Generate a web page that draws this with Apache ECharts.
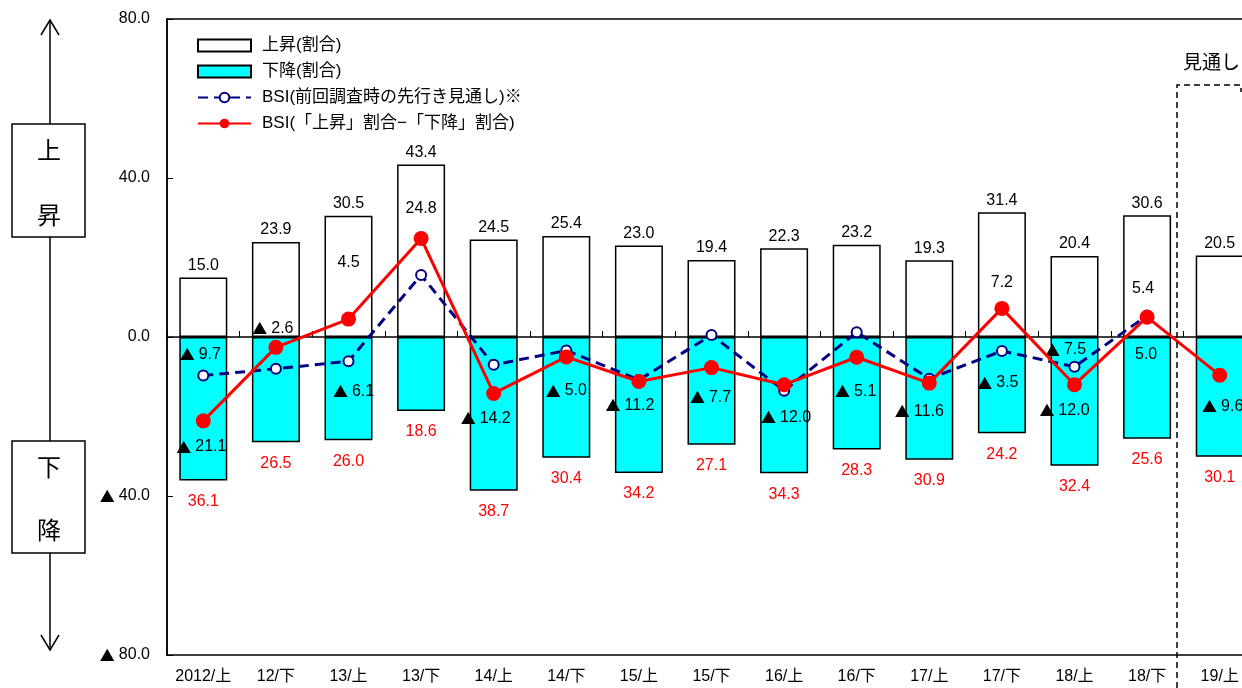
<!DOCTYPE html>
<html>
<head>
<meta charset="utf-8">
<script src="https://cdn.jsdelivr.net/npm/echarts@6/dist/echarts.min.js"></script>
<style>
  html, body { margin: 0; padding: 0; background: #fff; }
  #main { width: 1242px; height: 688px; }
</style>
</head>
<body>
<div id="main"></div>
<script>
var categories = ['2012/上', '12/下', '13/上', '13/下', '14/上', '14/下', '15/上', '15/下', '16/上', '16/下', '17/上', '17/下', '18/上', '18/下', '19/上'];
// 上昇(割合)
var riseValues = [15.0, 23.9, 30.5, 43.4, 24.5, 25.4, 23.0, 19.4, 22.3, 23.2, 19.3, 31.4, 20.4, 30.6, 20.5];
// 下降(割合)
var fallValues = [36.1, 26.5, 26.0, 18.6, 38.7, 30.4, 34.2, 27.1, 34.3, 28.3, 30.9, 24.2, 32.4, 25.6, 30.1];
// BSI(「上昇」割合－「下降」割合)
var bsiValues = [-21.1, -2.6, 4.5, 24.8, -14.2, -5.0, -11.2, -7.7, -12.0, -5.1, -11.6, 7.2, -12.0, 5.0, -9.6];
// BSI(前回調査時の先行き見通し)
var prevValues = [-9.7, -8.0, -6.1, 15.6, -7.0, -3.4, -10.8, 0.5, -13.5, 1.2, -10.5, -3.5, -7.5, 5.4, null];
var yTicks = [-80, -40, 0, 40, 80];

// ラベル位置(点からのずれ)
var bsiLabelOffset = [[-2, 26], [-3, -19], [0, -57], [0, -30], [-8, 25], [0, 34], [-9, 24], [-1, 30], [2, 33], [-1, 34], [-10, 28], [0, -26], [-10, 26], [-1, 37], [3, 31]];
var prevLabelOffset = [[-3, -21], null, [5, 30], null, null, null, null, null, null, null, null, [-4, 32], [-9, -17], [-4, -27], null];

var FONT = "'Liberation Sans', 'Noto Sans CJK JP', sans-serif";
var triRich = { t: { fontFamily: 'Noto Sans CJK JP', fontSize: 15, color: '#000', padding: [0, 4, 0, 0] } };

function fmt(v) {
    return v < 0 ? '{t|▲}' + Math.abs(v).toFixed(1) : v.toFixed(1);
}

var myChart = echarts.init(document.getElementById('main'));

var bsiData = bsiValues.map(function (v, i) {
    return {
        value: v,
        label: { show: true, position: 'inside', offset: bsiLabelOffset[i] }
    };
});
var prevData = prevValues.map(function (v, i) {
    var off = prevLabelOffset[i];
    return {
        value: v,
        label: off ? { show: true, position: 'inside', offset: off } : { show: false }
    };
});

var option = {
    animation: false,
    textStyle: { fontFamily: FONT },
    grid: {
        left: 167, width: 1089, top: 19, bottom: 33,
        outerBoundsMode: 'none',
        containLabel: false,
        show: true, borderColor: '#000', borderWidth: 1.5, backgroundColor: 'transparent'
    },
    legend: {
        orient: 'vertical',
        left: 192, top: 31,
        itemWidth: 53, itemHeight: 12, itemGap: 7,
        textStyle: { fontSize: 17, color: '#000', fontFamily: FONT, lineHeight: 19, padding: [0, 0, 0, 6] },
        data: [
            { name: '上昇(割合)', icon: 'rect' },
            { name: '下降(割合)', icon: 'rect' },
            { name: 'BSI(前回調査時の先行き見通し)※' },
            { name: 'BSI(「上昇」割合−「下降」割合)' }
        ]
    },
    xAxis: [{
        type: 'category',
        data: categories,
        axisLine: { onZero: true, lineStyle: { color: '#000', width: 1.5 } },
        axisTick: { show: true, inside: true, length: 6, lineStyle: { color: '#000' } },
        axisLabel: { show: false }
    }, {
        type: 'category',
        data: categories,
        position: 'bottom',
        axisLine: { show: false, onZero: false },
        axisTick: { show: false },
        axisLabel: { interval: 0, margin: 14, fontSize: 16, color: '#000', fontFamily: FONT }
    }],
    yAxis: {
        type: 'value',
        min: yTicks[0], max: yTicks[yTicks.length - 1], interval: 40,
        splitLine: { show: false },
        axisLine: { show: true, lineStyle: { color: '#000', width: 1.5 } },
        axisTick: { show: true, inside: true, length: 6, lineStyle: { color: '#000' } },
        axisLabel: { margin: 17, fontSize: 16, color: '#000', fontFamily: FONT, formatter: fmt, rich: triRich }
    },
    series: [{
        name: '上昇(割合)',
        type: 'bar',
        barWidth: 48,
        barGap: '-100%',
        data: riseValues,
        itemStyle: { color: '#fff', borderColor: '#000', borderWidth: 1.5 },
        label: { show: true, position: 'top', distance: 4, fontSize: 16, color: '#000', formatter: function (p) { return p.value.toFixed(1); } }
    }, {
        name: '下降(割合)',
        type: 'bar',
        barWidth: 48,
        data: fallValues.map(function (v) { return -v; }),
        itemStyle: { color: '#00FFFF', borderColor: '#000', borderWidth: 1.5 },
        label: { show: true, position: 'bottom', distance: 13, fontSize: 16, color: '#FF0000', formatter: function (p) { return Math.abs(p.value).toFixed(1); } }
    }, {
        name: 'BSI(前回調査時の先行き見通し)※',
        type: 'line',
        data: prevData,
        symbol: 'circle',
        symbolSize: 10,
        z: 3,
        lineStyle: { color: '#000080', width: 3, type: [10, 6] },
        itemStyle: { color: '#fff', borderColor: '#000080', borderWidth: 2 },
        label: { fontSize: 16, color: '#000', rich: triRich, formatter: function (p) { return fmt(p.value); } }
    }, {
        name: 'BSI(「上昇」割合−「下降」割合)',
        type: 'line',
        data: bsiData,
        symbol: 'circle',
        symbolSize: 15,
        z: 4,
        lineStyle: { color: '#FF0000', width: 3 },
        itemStyle: { color: '#FF0000' },
        label: { fontSize: 16, color: '#000', rich: triRich, formatter: function (p) { return fmt(p.value); } }
    }],
    graphic: [
        // 左側の矢印と「上昇」「下降」
        { type: 'line', shape: { x1: 50, y1: 20, x2: 50, y2: 650 }, style: { stroke: '#000', lineWidth: 1.5 } },
        { type: 'polyline', shape: { points: [[41, 35], [50, 20], [59, 35]] }, style: { stroke: '#000', lineWidth: 1.5, fill: null } },
        { type: 'polyline', shape: { points: [[41, 635], [50, 650], [59, 635]] }, style: { stroke: '#000', lineWidth: 1.5, fill: null } },
        { type: 'rect', shape: { x: 12, y: 124, width: 73, height: 113 }, style: { stroke: '#000', lineWidth: 1.5, fill: '#fff' } },
        { type: 'rect', shape: { x: 12, y: 441, width: 73, height: 112 }, style: { stroke: '#000', lineWidth: 1.5, fill: '#fff' } },
        { type: 'text', x: 49, y: 150, style: { text: '上', font: '24px "Noto Sans CJK JP"', fill: '#000', textAlign: 'center', textVerticalAlign: 'middle' } },
        { type: 'text', x: 49, y: 215, style: { text: '昇', font: '24px "Noto Sans CJK JP"', fill: '#000', textAlign: 'center', textVerticalAlign: 'middle' } },
        { type: 'text', x: 49, y: 467, style: { text: '下', font: '24px "Noto Sans CJK JP"', fill: '#000', textAlign: 'center', textVerticalAlign: 'middle' } },
        { type: 'text', x: 49, y: 530, style: { text: '降', font: '24px "Noto Sans CJK JP"', fill: '#000', textAlign: 'center', textVerticalAlign: 'middle' } },
        // 見通し枠
        { type: 'polyline', z: 10, shape: { points: [[1177, 688], [1177, 85], [1241, 85], [1241, 92]] }, style: { stroke: '#000', lineWidth: 1.5, fill: null, lineDash: [6, 4] } },
        { type: 'text', x: 1183, y: 62, z: 10, style: { text: '見通し', font: '19px "Noto Sans CJK JP"', fill: '#000', textVerticalAlign: 'middle' } }
    ]
};

myChart.setOption(option);
</script>
</body>
</html>
